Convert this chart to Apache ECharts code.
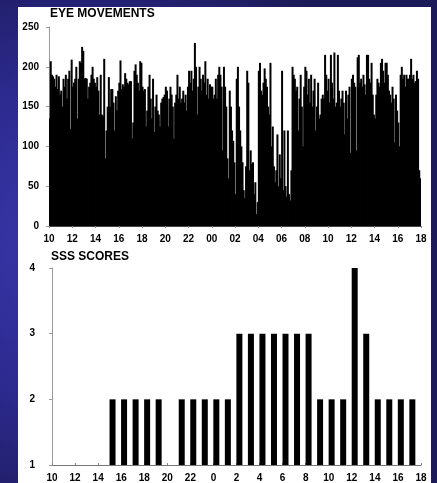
<!DOCTYPE html>
<html>
<head>
<meta charset="utf-8">
<script src="https://cdn.jsdelivr.net/npm/echarts@6/dist/echarts.min.js"></script>
<style>
  html, body { margin: 0; padding: 0; width: 437px; height: 483px; overflow: hidden; }
  body {
    background: radial-gradient(ellipse 75% 65% at 20% 50%, #3a39ae 0%, #2d2b90 50%, #1c1a58 100%);
    position: relative;
  }
  #panel { position: absolute; left: 18px; top: 7px; width: 413px; height: 476px; background: #ffffff; }
  #chart { position: absolute; left: 0; top: 0; width: 437px; height: 483px; }
</style>
</head>
<body>
<div id="panel"></div>
<div id="chart"></div>
<script>
// Eye movement counts, one value every 6 minutes from 10:00 to 18:00 the next day
const eyeStartHour = 10;
const eyeStepHours = 0.1;
const eyeMovements = [
  135,207,190,188,185,175,190,172,188,165,   // 10h
  170,150,185,175,190,160,185,195,122,209,   // 11h
  175,180,185,200,135,185,207,205,225,220,   // 12h
  185,186,185,160,175,180,190,200,185,180,   // 13h
  175,187,170,140,190,140,138,210,85,120,    // 14h
  150,187,150,172,172,155,120,163,145,170,   // 15h
  180,208,172,178,175,192,185,180,178,182,   // 16h
  182,110,130,195,203,190,180,170,207,205,   // 17h
  175,170,172,125,145,175,190,160,135,185,   // 18h
  118,150,165,145,140,125,155,160,162,165,   // 19h
  175,170,125,160,175,165,150,110,155,165,   // 20h
  190,160,175,155,160,170,155,165,145,175,   // 21h
  195,180,195,170,185,230,200,140,175,200,   // 22h
  185,170,190,180,207,165,185,160,178,175,   // 23h
  175,160,165,185,160,190,200,190,175,95,    // 00h
  200,175,150,85,60,170,150,120,107,80,      // 01h
  40,185,200,150,120,100,80,45,35,75,        // 02h
  195,180,70,95,78,80,40,55,15,30,           // 03h
  195,205,170,165,180,198,185,175,150,140,   // 04h
  205,100,125,75,55,70,115,50,90,60,         // 05h
  195,45,120,50,37,120,40,32,70,200,         // 06h
  190,185,170,175,120,160,190,150,100,175,   // 07h
  200,195,165,185,155,190,150,170,185,120,   // 08h
  150,180,135,140,160,165,160,215,190,170,   // 09h
  185,155,215,180,160,218,150,155,215,170,   // 10h
  150,160,170,155,115,170,135,165,175,92,    // 11h
  185,190,180,175,95,212,215,180,185,175,    // 12h
  190,178,165,215,215,185,180,205,165,140,   // 13h
  135,165,185,180,175,205,210,195,180,205,   // 14h
  205,190,170,165,155,175,160,105,165,145,   // 15h
  130,100,190,200,185,190,175,190,185,185,   // 16h
  190,210,185,190,180,182,195,185,70,60      // 17h
];
const eyeYTicks = [0, 50, 100, 150, 200, 250];

// Stanford Sleepiness Scale scores, rated hourly (clock hour counted on from 10:00 day 1)
const sssTimes  = [15.25, 16.25, 17.25, 18.25, 19.25,
                   21.25, 22.25, 23.25, 24.25, 25.25,
                   26.25, 27.25, 28.25, 29.25, 30.25, 31.25, 32.25,
                   33.25, 34.25, 35.25, 36.25, 37.25,
                   38.25, 39.25, 40.25, 41.25];
const sssScores = [2, 2, 2, 2, 2,
                   2, 2, 2, 2, 2,
                   3, 3, 3, 3, 3, 3, 3,
                   2, 2, 2, 4, 3,
                   2, 2, 2, 2];
const sssYTicks = [1, 2, 3, 4];

const hourMin = 10, hourMax = 42, hourStep = 2;

const FONT = '"Liberation Sans", Arial, Helvetica, sans-serif';
const pad2 = n => (n < 10 ? '0' : '') + n;

const chart = echarts.init(document.getElementById('chart'), null, { renderer: 'canvas' });

const labelStyle = { color: '#000', fontFamily: FONT, fontWeight: 'bold', fontSize: 10 };

chart.setOption({
  backgroundColor: 'transparent',
  animation: false,
  title: [
    { text: 'EYE MOVEMENTS', left: 50, top: 8, padding: 0,
      textStyle: { fontFamily: FONT, fontWeight: 'bold', fontSize: 12, color: '#000' } },
    { text: 'SSS SCORES', left: 51, top: 251, padding: 0,
      textStyle: { fontFamily: FONT, fontWeight: 'bold', fontSize: 12, color: '#000' } }
  ],
  grid: [
    { left: 49, right: 16, top: 27, bottom: 257 },
    { left: 52, right: 16, top: 268, bottom: 14 }
  ],
  xAxis: [
    { // band axis carrying the 6-minute bars
      type: 'category', gridIndex: 0,
      data: eyeMovements.map((_, i) => eyeStartHour + i * eyeStepHours),
      show: false
    },
    { // clock axis for the eye movement panel
      type: 'value', gridIndex: 0, min: hourMin, max: hourMax, interval: hourStep,
      position: 'bottom',
      axisLine: { lineStyle: { color: '#444', width: 1 } },
      axisTick: { length: 2, lineStyle: { color: '#888' } },
      splitLine: { show: false },
      axisLabel: Object.assign({ margin: 8, formatter: v => pad2(v % 24) }, labelStyle)
    },
    { // clock axis for the SSS panel
      type: 'value', gridIndex: 1, min: hourMin, max: hourMax, interval: hourStep,
      axisLine: { lineStyle: { color: '#777', width: 1 } },
      axisTick: { length: 2, inside: true, lineStyle: { color: '#888' } },
      splitLine: { show: false },
      axisLabel: Object.assign({ margin: 8, formatter: v => String(v % 24) }, labelStyle)
    }
  ],
  yAxis: [
    {
      type: 'value', gridIndex: 0, min: eyeYTicks[0], max: eyeYTicks[eyeYTicks.length - 1], interval: 50,
      axisLine: { show: true, lineStyle: { color: '#999', width: 1 } },
      axisTick: { show: true, length: 3, lineStyle: { color: '#999' } },
      splitLine: { show: false },
      axisLabel: Object.assign({ margin: 10 }, labelStyle)
    },
    {
      type: 'value', gridIndex: 1, min: sssYTicks[0], max: sssYTicks[sssYTicks.length - 1], interval: 1,
      axisLine: { show: true, lineStyle: { color: '#999', width: 1 } },
      axisTick: { show: true, length: 3, lineStyle: { color: '#999' } },
      splitLine: { show: false },
      axisLabel: Object.assign({ margin: 17 }, labelStyle)
    }
  ],
  series: [
    {
      type: 'bar', xAxisIndex: 0, yAxisIndex: 0,
      data: eyeMovements,
      barWidth: 2,
      itemStyle: { color: '#000' },
      silent: true, z: 1
    },
    {
      type: 'bar', xAxisIndex: 2, yAxisIndex: 1,
      data: sssTimes.map((t, i) => [t, sssScores[i]]),
      barWidth: 6,
      clip: true,
      itemStyle: { color: '#000' },
      silent: true
    }
  ]
});
</script>
</body>
</html>
